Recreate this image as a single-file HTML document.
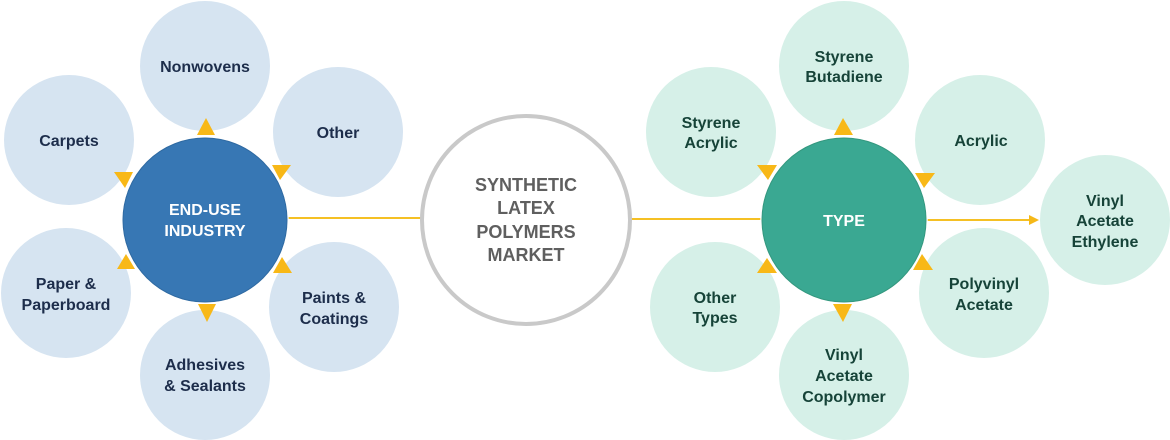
<!DOCTYPE html>
<html>
<head>
<meta charset="utf-8">
<style>
  html, body { margin: 0; padding: 0; background: #ffffff; }
  body { width: 1170px; height: 440px; overflow: hidden; }
  svg { display: block; }
  text { font-family: "Liberation Sans", Arial, sans-serif; font-weight: bold; text-anchor: middle; }
  .lt { fill: #1d2d4b; font-size: 16px; }
  .rt { fill: #164338; font-size: 16px; }
  .wt { fill: #ffffff; font-size: 16px; }
  .ct { fill: #5f5f5f; font-size: 18px; }
</style>
</head>
<body>
<svg width="1170" height="440" viewBox="0 0 1170 440" xmlns="http://www.w3.org/2000/svg">
  <!-- connectors -->
  <line x1="286" y1="218" x2="421" y2="218" stroke="#f5c024" stroke-width="2"/>
  <line x1="631" y1="219" x2="762" y2="219" stroke="#f5c024" stroke-width="2"/>
  <line x1="926" y1="220" x2="1030" y2="220" stroke="#f5c024" stroke-width="2"/>
  <polygon points="1029,215 1039,220 1029,225" fill="#f5b818"/>

  <!-- left satellites -->
  <g fill="#d6e4f1">
    <circle cx="205" cy="66" r="65"/>
    <circle cx="69" cy="140" r="65"/>
    <circle cx="338" cy="132" r="65"/>
    <circle cx="66" cy="293" r="65"/>
    <circle cx="205" cy="375" r="65"/>
    <circle cx="334" cy="307" r="65"/>
  </g>

  <!-- right satellites -->
  <g fill="#d6f0e8">
    <circle cx="844" cy="66" r="65"/>
    <circle cx="711" cy="132" r="65"/>
    <circle cx="980" cy="140" r="65"/>
    <circle cx="1105" cy="220" r="65"/>
    <circle cx="984" cy="293" r="65"/>
    <circle cx="715" cy="307" r="65"/>
    <circle cx="844" cy="375" r="65"/>
  </g>

  <!-- left triangles -->
  <g fill="#f8b817">
    <polygon points="197,135 215,135 206,118"/>
    <polygon points="114,172 133,172 125,188"/>
    <polygon points="272,165 291,165 280,180"/>
    <polygon points="117,269 135,269 126,254"/>
    <polygon points="273,273 292,273 282,257"/>
    <polygon points="198,304 216,304 207,322"/>
  </g>
  <!-- right triangles -->
  <g fill="#f8b817">
    <polygon points="834,135 853,135 843,118"/>
    <polygon points="757,165 777,165 768,180"/>
    <polygon points="915,173 935,173 924,188"/>
    <polygon points="757,273 777,273 767,258"/>
    <polygon points="913,270 933,270 922,254"/>
    <polygon points="833,304 852,304 843,322"/>
  </g>

  <!-- main circles -->
  <circle cx="205" cy="220" r="83" fill="#3777b4" stroke="#ffffff" stroke-width="1.5"/>
  <circle cx="205" cy="220" r="82" fill="none" stroke="#2f6aa2" stroke-width="1"/>
  <circle cx="844" cy="220" r="83" fill="#3aa892" stroke="#ffffff" stroke-width="1.5"/>
  <circle cx="844" cy="220" r="82" fill="none" stroke="#34987f" stroke-width="1"/>
  <circle cx="526" cy="220" r="104" fill="#ffffff" stroke="#c9c9c9" stroke-width="4"/>

  <!-- left labels -->
  <text class="lt" x="205" y="72">Nonwovens</text>
  <text class="lt" x="69" y="146">Carpets</text>
  <text class="lt" x="338" y="138">Other</text>
  <text class="lt" x="66" y="289">Paper &amp;</text>
  <text class="lt" x="66" y="310">Paperboard</text>
  <text class="lt" x="205" y="370">Adhesives</text>
  <text class="lt" x="205" y="391">&amp; Sealants</text>
  <text class="lt" x="334" y="303">Paints &amp;</text>
  <text class="lt" x="334" y="324">Coatings</text>
  <text class="wt" x="205" y="215">END-USE</text>
  <text class="wt" x="205" y="236">INDUSTRY</text>

  <!-- center labels -->
  <text class="ct" x="526" y="191">SYNTHETIC</text>
  <text class="ct" x="526" y="214">LATEX</text>
  <text class="ct" x="526" y="238">POLYMERS</text>
  <text class="ct" x="526" y="261">MARKET</text>

  <!-- right labels -->
  <text class="rt" x="844" y="62">Styrene</text>
  <text class="rt" x="844" y="82">Butadiene</text>
  <text class="rt" x="711" y="128">Styrene</text>
  <text class="rt" x="711" y="148">Acrylic</text>
  <text class="rt" x="981" y="146">Acrylic</text>
  <text class="wt" x="844" y="226">TYPE</text>
  <text class="rt" x="1105" y="206">Vinyl</text>
  <text class="rt" x="1105" y="226">Acetate</text>
  <text class="rt" x="1105" y="247">Ethylene</text>
  <text class="rt" x="984" y="289">Polyvinyl</text>
  <text class="rt" x="984" y="310">Acetate</text>
  <text class="rt" x="715" y="303">Other</text>
  <text class="rt" x="715" y="323">Types</text>
  <text class="rt" x="844" y="360">Vinyl</text>
  <text class="rt" x="844" y="381">Acetate</text>
  <text class="rt" x="844" y="402">Copolymer</text>
</svg>
</body>
</html>
